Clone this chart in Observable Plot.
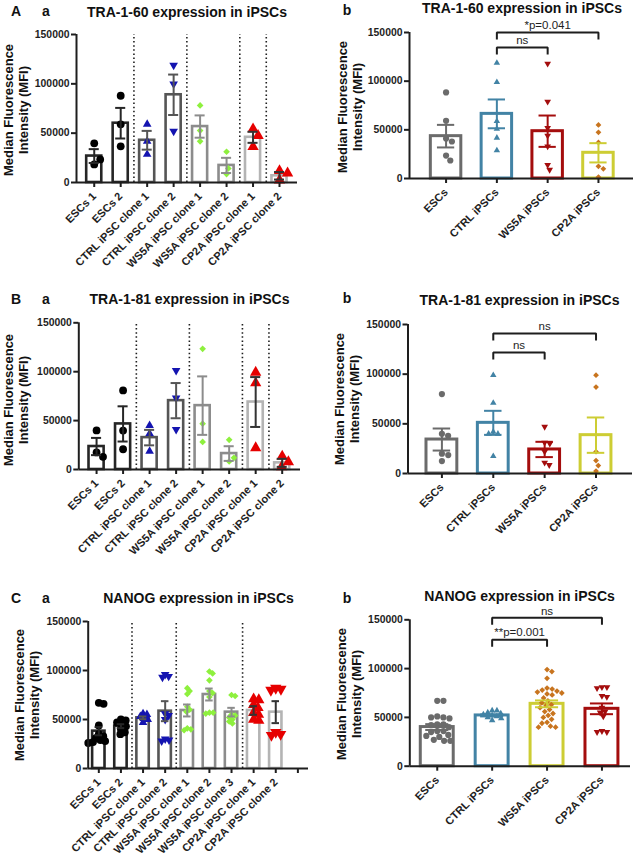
<!DOCTYPE html>
<html><head><meta charset="utf-8">
<script src="https://cdn.jsdelivr.net/npm/d3@7"></script>
<script src="https://cdn.jsdelivr.net/npm/@observablehq/plot@0.6"></script>
<style>
body{margin:0;background:#fff;}
#fig{position:relative;width:635px;height:856px;overflow:hidden;background:#fff;font-family:"Liberation Sans",Arial,sans-serif;color:#111;}
.abs{position:absolute;white-space:nowrap;}
.panel{position:absolute;}
</style></head><body><div id="fig"></div>
<script>
// ---------- categories & ticks ----------
const cloneCats = ["ESCs 1","ESCs 2","CTRL iPSC clone 1","CTRL iPSC clone 2","WS5A iPSC clone 1","WS5A iPSC clone 2","CP2A iPSC clone 1","CP2A iPSC clone 2"];
const pooledCats = ["ESCs","CTRL iPSCs","WS5A iPSCs","CP2A iPSCs"];
const nanogCloneCats = ["ESCs 1","ESCs 2","CTRL iPSC clone 1","CTRL iPSC clone 2","WS5A iPSC clone 1","WS5A iPSC clone 2","WS5A iPSC clone 3","CP2A iPSC clone 1","CP2A iPSC clone 2",""];
const yTicks = [0, 50000, 100000, 150000];
const yMax = 150000;

// ---------- A: TRA-1-60 ----------
const tra160CloneMean = [26800, 60100, 42800, 88900, 56700, 17300, 45800, 6800];
const tra160CloneSem  = [7000, 15500, 9500, 20500, 11300, 7700, 5600, 3800];
const tra160ClonePoints = [
  [39700, 18300, 23400],
  [87900, 59000, 36700],
  [59000, 41700, 28500],
  [118800, 99800, 51900],
  [78100, 52600, 41700],
  [31200, 8500, 14300],
  [54300, 47500, 36300],
  [11900, 9500, 2400]
];
const tra160CloneSeparators = ["ESCs 2","CTRL iPSC clone 2","WS5A iPSC clone 2","CP2A iPSC clone 1"];

const tra160Mean = [43500, 66400, 48600, 26400];
const tra160Sem  = [11600, 14800, 16100, 9900];
const tra160Points = [
  [88400, 59300, 41000, 38000, 23600, 18500],
  [118800, 99000, 58900, 51000, 41800, 28800],
  [118000, 79000, 52000, 44000, 33000, 14000, 9000],
  [55000, 47500, 37000, 12500, 10000, 1500]
];
const tra160Brackets = [
  {from: "CTRL iPSCs", to: "CP2A iPSCs", y: 150000, label: "*p=0.041"},
  {from: "CTRL iPSCs", to: "WS5A iPSCs", y: 134500, label: "ns"}
];

// ---------- B: TRA-1-81 ----------
const tra181CloneMean = [23500, 46600, 32600, 70400, 65300, 16300, 69000, 6800];
const tra181CloneSem  = [8800, 18000, 7900, 18000, 29900, 7500, 25500, 4100];
const tra181ClonePoints = [
  [40000, 17500, 13000],
  [80900, 39800, 20700],
  [44900, 36700, 18700],
  [101300, 73100, 40800],
  [123400, 46900, 28200],
  [30300, 8200, 11900],
  [99300, 88400, 22100],
  [13600, 7800, 2700]
];
const tra181CloneSeparators = ["ESCs 2","CTRL iPSC clone 2","WS5A iPSC clone 2","CP2A iPSC clone 1"];

const tra181Mean = [34200, 51000, 24200, 38600];
const tra181Sem  = [11100, 12100, 7700, 17800];
const tra181Points = [
  [80000, 40000, 38000, 20000, 18500, 12500],
  [99000, 71000, 42000, 40000, 40000, 17500],
  [47000, 31000, 30000, 22000, 11000, 8500],
  [99000, 87000, 22000, 13000, 8000, 2500]
];
const tra181Brackets = [
  {from: "CTRL iPSCs", to: "CP2A iPSCs", y: 141000, label: "ns"},
  {from: "CTRL iPSCs", to: "WS5A iPSCs", y: 121800, label: "ns"}
];

// ---------- C: NANOG ----------
const nanogCloneMean = [38100, 43200, 51700, 58500, 59200, 75500, 57500, 59200, 57500];
const nanogCloneSem  = [4200, 2000, 1400, 10200, 6100, 6100, 4400, 4400, 11200];
const nanogClonePoints = [
  [67000, 66000, 44000, 35000, 33000, 31000, 29000, 28000, 27000, 26000],
  [50000, 49000, 47000, 45000, 43000, 40000, 37000, 35000],
  [56000, 55000, 53000, 51000, 50000, 47000],
  [96000, 94000, 93000, 56000, 54000, 50000, 30000, 29000, 28000],
  [82000, 79000, 76000, 63000, 60000, 58000, 41000, 40000, 39000],
  [99000, 97000, 90000, 79000, 77000, 73000, 57000, 57000, 56000],
  [75000, 74000, 55000, 54000, 52000, 50000, 48000, 46000],
  [71000, 70000, 65000, 62000, 57000, 55000, 50000, 49000],
  [82000, 81000, 80000, 37000, 35000, 34000]
];
const nanogCloneSeparators = ["ESCs 2","CTRL iPSC clone 2","WS5A iPSC clone 3"];

const nanogMean = [40100, 52000, 63900, 58800];
const nanogSem  = [3000, 1000, 3500, 5500];
const nanogPoints = [
  [67000, 67000, 51000, 50000, 50000, 49000, 43000, 43000, 42000, 40000, 36000, 36000, 35000, 32000, 31000, 30000, 27000, 26000, 26000],
  [57000, 57000, 55000, 54000, 53000, 52000, 51000, 50000, 49000, 47000],
  [99000, 97000, 90000, 80000, 79000, 78000, 77000, 76000, 75000, 74000, 73000, 70000, 67000, 65000, 63000, 62000, 60000, 58000, 56000, 54000, 52000, 50000, 48000, 45000, 44000, 41000, 40000, 40000],
  [81000, 81000, 80000, 72000, 71000, 60000, 56000, 55000, 51000, 36000, 35000, 35000]
];
const nanogBrackets = [
  {from: "CTRL iPSCs", to: "CP2A iPSCs", y: 152000, label: "ns"},
  {from: "CTRL iPSCs", to: "WS5A iPSCs", y: 129500, label: "**p=0.001"}
];

// ---------- styles ----------
const sqrt3 = Math.sqrt(3);
const triangleDown = {
  draw(context, size) {
    const y = -Math.sqrt(size / (sqrt3 * 3));
    context.moveTo(0, -y * 2);
    context.lineTo(sqrt3 * y, y);
    context.lineTo(-sqrt3 * y, y);
    context.closePath();
  }
};
const ink = "#1e1e1e";
function cloneStyle(name, cp2aClone2Down) {
  if (name.startsWith("ESCs")) return {bar: "#262626", err: "#262626", fill: "#000", symbol: "circle", r: 3.9};
  if (name.startsWith("CTRL")) return {bar: "#555", err: "#555", fill: "#1414b0", symbol: name.endsWith("2") ? triangleDown : "triangle", r: 3.2};
  if (name.startsWith("WS5A")) return {bar: "#8c8c8c", err: "#8c8c8c", fill: "#8ef03e", symbol: "diamond2", r: 3.0};
  return {bar: "#b4b4b4", err: "#333", fill: "#e60000", symbol: (cp2aClone2Down && name.endsWith("2")) ? triangleDown : "triangle", r: 4.2};
}
const sGrey = {bar: "#6b6b6b", err: "#6b6b6b", fill: "#6b6b6b", symbol: "circle", r: 3.1};
const sTeal = {bar: "#4283a5", err: "#4283a5", fill: "#4283a5", symbol: "triangle", r: 2.4};
const sRed = {bar: "#a40d0d", err: "#a40d0d", fill: "#a40d0d", symbol: triangleDown, r: 2.5};
const sYellow = {bar: "#cdcd34", err: "#cdcd34", fill: "#c8741e", symbol: "diamond2", r: 2.6};

// ---------- helpers ----------
function swarm(values, diam, ky) {
  const placed = [];
  return values.map(v => {
    const y = v * ky;
    const cands = [0];
    for (const p of placed) {
      const dy = Math.abs(p.y - y);
      if (dy < diam) {
        const dx = Math.sqrt(diam * diam - dy * dy);
        cands.push(p.x + dx, p.x - dx);
      }
    }
    cands.sort((a, b) => Math.abs(a) - Math.abs(b));
    let x = cands.find(c => placed.every(p => (p.x - c) ** 2 + (p.y - y) ** 2 >= diam * diam - 1e-6));
    if (x === undefined) x = d3.max(placed, p => p.x) + diam;
    placed.push({x, y});
    return x;
  });
}

const fig = document.getElementById("fig");

function drawPanel(cfg) {
  const {box, margins, xDomain, cats, means, sems, points, styles, seps = [], brackets = [], barHalf, capHalf, barStroke, spread} = cfg;
  const [left, top, width, height] = box;
  const [mT, mR, mB, mL] = margins;
  const kx = (width - mL - mR) / (xDomain[1] - xDomain[0]);
  const ky = (height - mT - mB) / yMax;
  const bars = means.map((m, i) => ({i, m, s: sems[i], st: styles[i]}));
  const marks = [];
  if (seps.length) marks.push(Plot.ruleX(seps.map(n => cats.indexOf(n) + 0.5), {x: d => d, y1: 0, y2: yMax, stroke: ink, strokeWidth: 1.6, strokeDasharray: "1.5,2.6"}));
  marks.push(Plot.rect(bars, {x1: d => d.i - barHalf, x2: d => d.i + barHalf, y1: 0, y2: d => d.m, fill: "white", stroke: d => d.st.bar, strokeWidth: barStroke}));
  points.forEach((vals, i) => {
    const st = styles[i];
    const offs = swarm(vals, st.r * spread, ky);
    const pts = vals.map((v, j) => ({x: i + offs[j] / kx, v}));
    marks.push(Plot.dot(pts, {x: "x", y: "v", symbol: st.symbol, fill: st.fill, r: st.r}));
  });
  marks.push(Plot.ruleX(bars, {x: "i", y1: d => d.m - d.s, y2: d => d.m + d.s, stroke: d => d.st.err, strokeWidth: 2}));
  marks.push(Plot.ruleY(bars, {y: d => d.m + d.s, x1: d => d.i - capHalf, x2: d => d.i + capHalf, stroke: d => d.st.err, strokeWidth: 2}));
  marks.push(Plot.ruleY(bars, {y: d => d.m - d.s, x1: d => d.i - capHalf, x2: d => d.i + capHalf, stroke: d => d.st.err, strokeWidth: 2}));
  marks.push(Plot.axisY({ticks: yTicks, tickFormat: d3.format("d"), tickSize: 5, tickPadding: 2, strokeWidth: 2, fontSize: 10.4, fontWeight: "bold", label: null}));
  marks.push(Plot.axisX({ticks: cats.map((_, i) => i), tickFormat: i => cats[i], tickRotate: -45, tickSize: 5, tickPadding: 7, strokeWidth: 2, fontSize: 11, fontWeight: "bold", label: null}));
  marks.push(Plot.ruleX([xDomain[0]], {stroke: ink, strokeWidth: 2}));
  marks.push(Plot.ruleY([0], {stroke: ink, strokeWidth: 2}));
  const leg = 7 / ky;
  brackets.forEach(b => {
    const i1 = cats.indexOf(b.from), i2 = cats.indexOf(b.to);
    marks.push(Plot.line([[i1, b.y - leg], [i1, b.y], [i2, b.y], [i2, b.y - leg]], {x: d => d[0], y: d => d[1], stroke: ink, strokeWidth: 2, strokeLinejoin: "miter", strokeLinecap: "butt"}));
  });
  if (brackets.length) marks.push(Plot.text(brackets, {x: b => (cats.indexOf(b.from) + cats.indexOf(b.to)) / 2, y: "y", text: "label", dy: -7, lineAnchor: "middle", fontSize: 11.5, fontWeight: "normal", fill: ink}));

  const svg = Plot.plot({
    width, height, marginTop: mT, marginRight: mR, marginBottom: mB, marginLeft: mL,
    x: {domain: xDomain},
    y: {domain: [0, yMax]},
    color: {type: "identity"},
    style: {fontFamily: '"Liberation Sans", Arial, sans-serif', fontSize: "10px", fontWeight: "bold", color: ink, background: "transparent", overflow: "visible"},
    marks
  });
  const wrap = document.createElement("div");
  wrap.className = "panel";
  wrap.style.left = left + "px";
  wrap.style.top = top + "px";
  wrap.appendChild(svg);
  fig.appendChild(wrap);
}

function label(text, cx, cy, opts = {}) {
  const el = document.createElement("div");
  el.className = "abs";
  el.innerHTML = text;
  el.style.left = cx + "px";
  el.style.top = cy + "px";
  el.style.fontSize = (opts.size || 14) + "px";
  el.style.fontWeight = opts.weight || "bold";
  el.style.lineHeight = opts.lh || "1.15";
  el.style.textAlign = "center";
  el.style.transform = "translate(-50%,-50%)" + (opts.rotate ? ` rotate(${opts.rotate}deg)` : "");
  fig.appendChild(el);
}
const yLabel = "Median Fluorescence<br>Intensity (MFI)";

// ---------- panels ----------
drawPanel({box: [0, 0, 318, 280], margins: [34, 21, 98, 76], xDomain: [-0.67, 7.68], cats: cloneCats,
  means: tra160CloneMean, sems: tra160CloneSem, points: tra160ClonePoints, styles: cloneCats.map(c => cloneStyle(c, false)),
  seps: tra160CloneSeparators, barHalf: 0.285, capHalf: 0.19, barStroke: 2.6, spread: 2.0});
drawPanel({box: [318, 0, 317, 280], margins: [32, 2, 102, 91], xDomain: [-0.72, 3.69], cats: pooledCats,
  means: tra160Mean, sems: tra160Sem, points: tra160Points, styles: [sGrey, sTeal, sRed, sYellow],
  brackets: tra160Brackets, barHalf: 0.30, capHalf: 0.17, barStroke: 3, spread: 2.1});
drawPanel({box: [0, 280, 318, 280], margins: [42.3, 18, 91, 78.3], xDomain: [-0.67, 7.69], cats: cloneCats,
  means: tra181CloneMean, sems: tra181CloneSem, points: tra181ClonePoints, styles: cloneCats.map(c => cloneStyle(c, false)),
  seps: tra181CloneSeparators, barHalf: 0.285, capHalf: 0.19, barStroke: 2.6, spread: 2.0});
drawPanel({box: [318, 280, 317, 280], margins: [44, 3, 87, 89.5], xDomain: [-0.66, 3.71], cats: pooledCats,
  means: tra181Mean, sems: tra181Sem, points: tra181Points, styles: [sGrey, sTeal, sRed, sYellow],
  brackets: tra181Brackets, barHalf: 0.30, capHalf: 0.17, barStroke: 3, spread: 2.1});
drawPanel({box: [0, 560, 318, 296], margins: [61, 10, 88, 87.7], xDomain: [-0.48, 9.48], cats: nanogCloneCats,
  means: nanogCloneMean, sems: nanogCloneSem, points: nanogClonePoints, styles: nanogCloneCats.slice(0, 9).map(c => cloneStyle(c, true)),
  seps: nanogCloneSeparators, barHalf: 0.28, capHalf: 0.17, barStroke: 2.6, spread: 1.25});
drawPanel({box: [318, 560, 317, 296], margins: [59.3, 5, 90.3, 91.3], xDomain: [-0.5, 3.52], cats: pooledCats,
  means: nanogMean, sems: nanogSem, points: nanogPoints, styles: [sGrey, sTeal, sYellow, sRed],
  brackets: nanogBrackets, barHalf: 0.30, capHalf: 0.21, barStroke: 3, spread: 2.0});

// ---------- text ----------
label("A", 16, 11); label("a", 46, 11);
label("TRA-1-60 expression in iPSCs", 187, 12);
label("b", 347, 10);
label("TRA-1-60 expression in iPSCs", 522, 8);
label("B", 16, 299); label("a", 46, 299);
label("TRA-1-81 expression in iPSCs", 189.5, 299);
label("b", 347, 298);
label("TRA-1-81 expression in iPSCs", 519.5, 300);
label("C", 16, 598); label("a", 46, 598);
label("NANOG expression in iPSCs", 198.5, 598);
label("b", 347, 598);
label("NANOG expression in iPSCs", 519.5, 596);

label(yLabel, 15.8, 110, {size: 13, rotate: -90, lh: "14.5px"});
label(yLabel, 350, 107, {size: 13, rotate: -90, lh: "14.5px"});
label(yLabel, 16.3, 400, {size: 13, rotate: -90, lh: "14.5px"});
label(yLabel, 347, 399, {size: 13, rotate: -90, lh: "14.5px"});
label(yLabel, 26.5, 695, {size: 13, rotate: -90, lh: "14.5px"});
label(yLabel, 349, 694, {size: 13, rotate: -90, lh: "14.5px"});
</script></body></html>
